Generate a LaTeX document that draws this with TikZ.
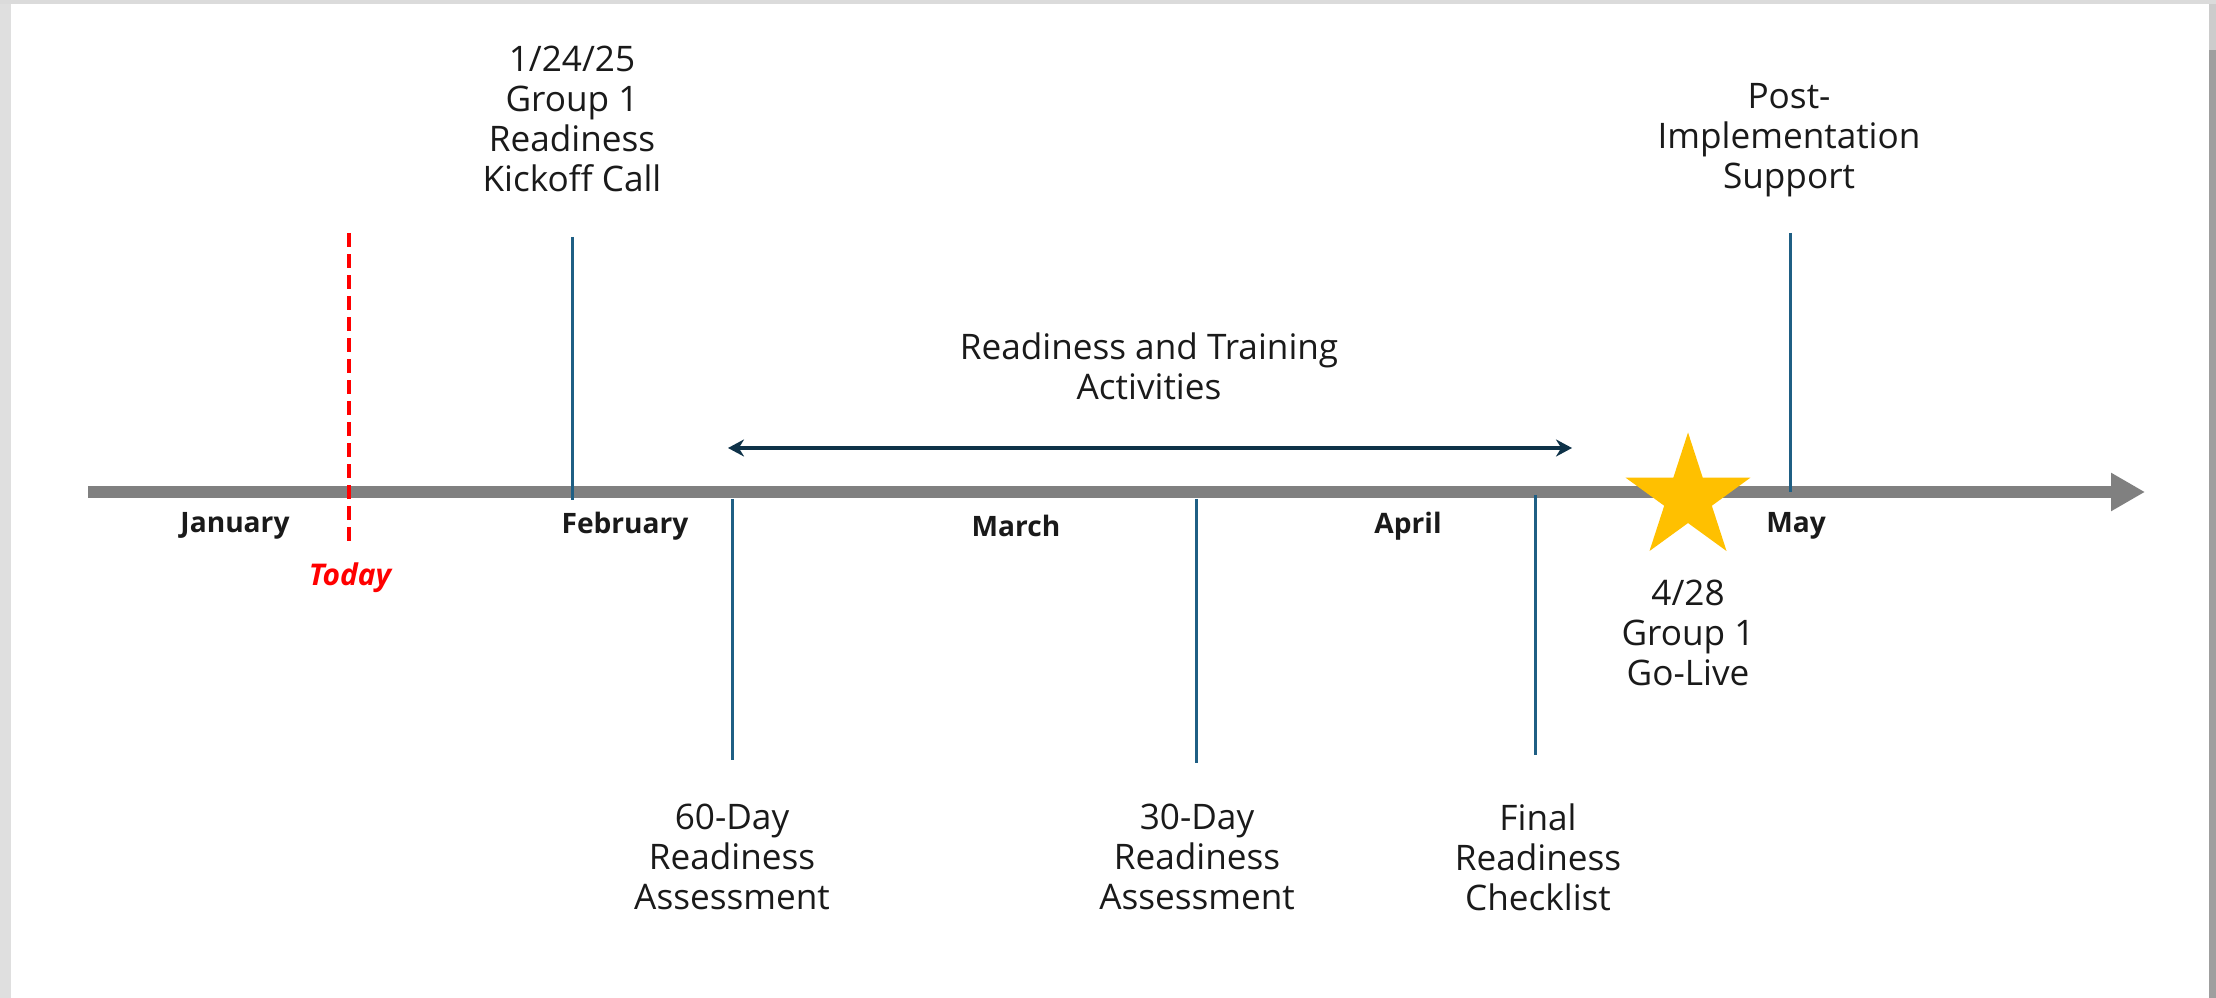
\documentclass[tikz,border=0pt]{standalone}
\usepackage{fontspec}
\setmainfont{Open Sans}
\usetikzlibrary{shapes.geometric,arrows.meta}
\definecolor{axisgray}{HTML}{808080}
\definecolor{tickblue}{HTML}{1F5F84}
\definecolor{spannavy}{HTML}{0E3248}
\definecolor{stargold}{HTML}{FFC000}
\definecolor{txt}{HTML}{1A1A1A}
\begin{document}
\begin{tikzpicture}[x=0.01cm,y=-0.01cm]
	\tikzset{every node/.style={text=txt,inner sep=0pt}}
	\tikzset{milestone/.style={align=center,font=\fontsize{10}{11.4}\selectfont}}
	\tikzset{month/.style={font=\fontsize{8}{9}\selectfont\bfseries}}
	\tikzset{mstick/.style={draw=tickblue,line width=0.03cm}}
	\useasboundingbox (0,0) rectangle (2216,998);
	% page frame
	\fill[white] (0,0) rectangle (2216,998);
	\fill[gray!25] (0,0) rectangle (11,998);
	\fill[gray!28] (0,0) rectangle (2216,4);
	\fill[gray!40] (2209,4) rectangle (2216,50);
	\fill[gray!75] (2209,50) rectangle (2216,998);
	% time axis
	\coordinate (axis start) at (88,492);
	\coordinate (axis end) at (2145,492);
	\draw[axisgray,line width=0.12cm,-{Triangle[length=0.34cm,width=0.36cm]}] (axis start) -- (axis end);
	\node[month] (jan) at (235,526) {January};
	\node[month] (feb) at (625,526) {February};
	\node[month] (mar) at (1016,526) {March};
	\node[month] (apr) at (1408,526) {April};
	\node[month] (may) at (1796,526) {May};
	% today marker
	\coordinate (today top) at (349,233);
	\coordinate (today bottom) at (349,548);
	\draw[red,line width=0.04cm,dash pattern=on 0.14cm off 0.07cm] (today top) -- (today bottom);
	\node[font=\fontsize{8.5}{10}\selectfont\bfseries\itshape,text=red] (today) at (350,578) {Today};
	% milestones above the axis
	\coordinate (kickoff top) at (572,237);
	\coordinate (kickoff foot) at (572,500);
	\draw[mstick] (kickoff top) -- (kickoff foot);
	\node[milestone] (kickoff) at (572,119) {1/24/25\\Group 1\\Readiness\\Kickoff Call};
	\coordinate (post top) at (1790,233);
	\coordinate (post foot) at (1790,492);
	\draw[mstick] (post top) -- (post foot);
	\node[milestone] (post) at (1789,140) {Post-\\Implementation\\Support};
	% milestones below the axis
	\coordinate (sixty top) at (732,499);
	\coordinate (sixty foot) at (732,760);
	\draw[mstick] (sixty top) -- (sixty foot);
	\node[milestone] (sixty) at (732,857) {60-Day\\Readiness\\Assessment};
	\coordinate (thirty top) at (1196,499);
	\coordinate (thirty foot) at (1196,763);
	\draw[mstick] (thirty top) -- (thirty foot);
	\node[milestone] (thirty) at (1197,857) {30-Day\\Readiness\\Assessment};
	\coordinate (final top) at (1535,495);
	\coordinate (final foot) at (1535,755);
	\draw[mstick] (final top) -- (final foot);
	\node[milestone] (final) at (1538,857) {Final\\Readiness\\Checklist};
	% readiness span
	\coordinate (span left) at (728,448);
	\coordinate (span right) at (1572,448);
	\draw[spannavy,line width=0.045cm,{Stealth[length=0.16cm,width=0.17cm]}-{Stealth[length=0.16cm,width=0.17cm]}] (span left) -- (span right);
	\node[milestone] (span) at (1149,366) {Readiness and Training\\Activities};
	% go-live
	\node[star,star points=5,star point ratio=2.618,fill=stargold,minimum size=1.31cm] (golive star) at (1688,498) {};
	\node[milestone] (golive) at (1688,633) {4/28\\Group 1\\Go-Live};
\end{tikzpicture}
\end{document}
